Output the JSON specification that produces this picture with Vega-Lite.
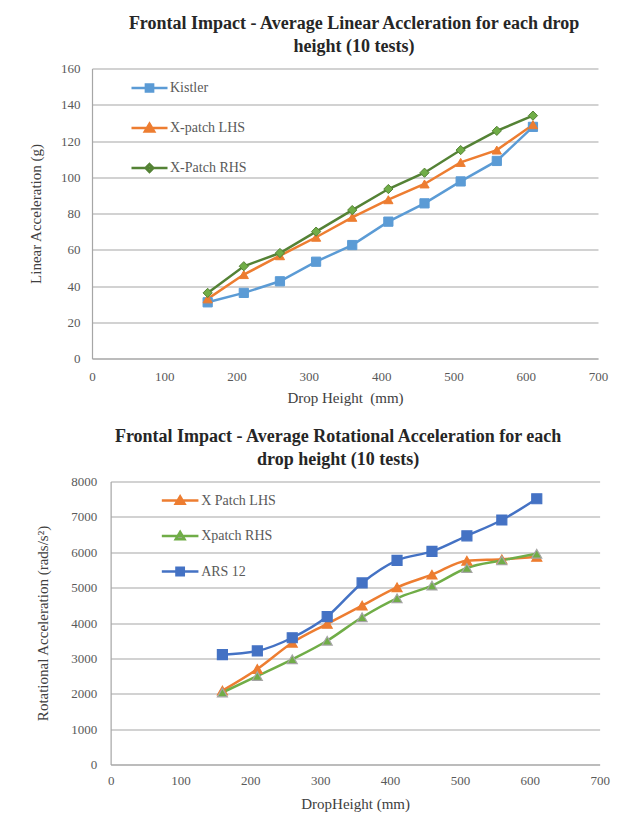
{
  "$schema": "https://vega.github.io/schema/vega-lite/v6.json",
  "background": "white",
  "padding": {"left": 28, "top": 14.5, "right": 0, "bottom": 2},
  "columns": 1,
  "center": true,
  "spacing": 22,
  "resolve": {"scale": {"color": "independent", "fill": "independent", "stroke": "independent", "shape": "independent", "x": "independent", "y": "independent"}},
  "config": {
    "font": "'Liberation Serif', 'Times New Roman', Times, 'DejaVu Serif', serif",
    "view": {"stroke": null},
    "axis": {
      "labelFont": "'Liberation Serif', 'Times New Roman', Times, 'DejaVu Serif', serif", "labelFontSize": 13, "labelColor": "#595959",
      "titleFont": "'Liberation Serif', 'Times New Roman', Times, 'DejaVu Serif', serif", "titleFontSize": 15, "titleFontWeight": "normal", "titleColor": "#404040",
      "ticks": false, "tickSize": 0, "domainColor": "#a6a6a6", "domainWidth": 1.2,
      "gridColor": "#a6a6a6", "gridWidth": 1.2, "labelFlush": false, "labelOverlap": false
    },
    "legend": {"labelFont": "'Liberation Serif', 'Times New Roman', Times, 'DejaVu Serif', serif", "labelFontSize": 14, "labelColor": "#595959"},
    "title": {"font": "'Liberation Serif', 'Times New Roman', Times, 'DejaVu Serif', serif", "fontSize": 18, "fontWeight": "bold", "color": "#262626", "lineHeight": 23}
  },
  "concat": [
    {
      "width": 506,
      "height": 290,
      "title": {"text": ["Frontal Impact - Average Linear Accleration for each drop", "height (10 tests)"], "anchor": "middle", "dx": 9, "offset": 6.5},
      "data": {"values": [
        {"h": 160, "v": 31.0, "series": "Kistler"},
        {"h": 210, "v": 36.2, "series": "Kistler"},
        {"h": 260, "v": 42.6, "series": "Kistler"},
        {"h": 310, "v": 53.4, "series": "Kistler"},
        {"h": 360, "v": 62.6, "series": "Kistler"},
        {"h": 410, "v": 75.5, "series": "Kistler"},
        {"h": 460, "v": 85.6, "series": "Kistler"},
        {"h": 510, "v": 97.7, "series": "Kistler"},
        {"h": 560, "v": 109.0, "series": "Kistler"},
        {"h": 610, "v": 127.8, "series": "Kistler"},
        {"h": 160, "v": 32.9, "series": "X-patch LHS"},
        {"h": 210, "v": 46.3, "series": "X-patch LHS"},
        {"h": 260, "v": 56.7, "series": "X-patch LHS"},
        {"h": 310, "v": 66.9, "series": "X-patch LHS"},
        {"h": 360, "v": 77.9, "series": "X-patch LHS"},
        {"h": 410, "v": 87.6, "series": "X-patch LHS"},
        {"h": 460, "v": 96.3, "series": "X-patch LHS"},
        {"h": 510, "v": 108.2, "series": "X-patch LHS"},
        {"h": 560, "v": 115.0, "series": "X-patch LHS"},
        {"h": 610, "v": 129.0, "series": "X-patch LHS"},
        {"h": 160, "v": 36.2, "series": "X-Patch RHS"},
        {"h": 210, "v": 50.9, "series": "X-Patch RHS"},
        {"h": 260, "v": 58.2, "series": "X-Patch RHS"},
        {"h": 310, "v": 70.0, "series": "X-Patch RHS"},
        {"h": 360, "v": 81.9, "series": "X-Patch RHS"},
        {"h": 410, "v": 93.5, "series": "X-Patch RHS"},
        {"h": 460, "v": 102.5, "series": "X-Patch RHS"},
        {"h": 510, "v": 115.0, "series": "X-Patch RHS"},
        {"h": 560, "v": 125.6, "series": "X-Patch RHS"},
        {"h": 610, "v": 134.0, "series": "X-Patch RHS"}
      ]},
      "encoding": {
        "x": {"field": "h", "type": "quantitative", "scale": {"domain": [0, 700], "nice": false},
          "axis": {"values": [0, 100, 200, 300, 400, 500, 600, 700], "format": "d", "title": "Drop Height\u00a0 (mm)", "grid": false, "labelPadding": 12, "titlePadding": 7}},
        "y": {"field": "v", "type": "quantitative", "scale": {"domain": [0, 160], "nice": false},
          "axis": {"values": [0, 20, 40, 60, 80, 100, 120, 140, 160], "format": "d", "title": "Linear Acceleration (g)", "labelPadding": 12, "titlePadding": 17}}
      },
      "layer": [
        {
          "mark": {"type": "line", "strokeWidth": 2.5},
          "encoding": {
            "color": {"field": "series", "type": "nominal",
              "scale": {"domain": ["Kistler", "X-patch LHS", "X-Patch RHS"], "range": ["#5B9BD5", "#ED7D31", "#548235"]}, "legend": null}
          }
        },
        {
          "mark": {"type": "point", "filled": true, "opacity": 1, "strokeWidth": 1, "size": 85},
          "encoding": {
            "y": {"field": "v", "type": "quantitative", "scale": {"domain": [0, 160], "nice": false}, "axis": null},
            "fill": {"field": "series", "type": "nominal",
              "scale": {"domain": ["Kistler", "X-patch LHS", "X-Patch RHS"], "range": ["#5B9BD5", "#ED7D31", "#70AD47"]}, "legend": null},
            "stroke": {"field": "series", "type": "nominal",
              "scale": {"domain": ["Kistler", "X-patch LHS", "X-Patch RHS"], "range": ["#5B9BD5", "#ED7D31", "#548235"]}, "legend": null},
            "shape": {"field": "series", "type": "nominal",
              "scale": {"domain": ["Kistler", "X-patch LHS", "X-Patch RHS"], "range": ["square", "triangle-up", "diamond"]}, "legend": null}
          }
        },
        {
          "mark": {"type": "point", "filled": true, "opacity": 0, "strokeWidth": 2.5},
          "encoding": {
            "y": {"field": "v", "type": "quantitative", "scale": {"domain": [0, 160], "nice": false},
              "axis": {"orient": "right", "values": [0, 160], "title": null, "grid": false, "domain": false, "labels": false, "ticks": true, "tickSize": 30, "tickOpacity": 0, "tickColor": "white"}},
            "fill": {"field": "series", "type": "nominal",
              "scale": {"domain": ["Kistler", "X-patch LHS", "X-Patch RHS"], "range": ["#5B9BD5", "#ED7D31", "#70AD47"]},
              "legend": {"orient": "none", "legendX": 38, "legendY": 0, "title": null, "symbolSize": 1296, "rowPadding": 11, "labelOffset": 1, "symbolOpacity": 1, "symbolStrokeWidth": 2.5}},
            "stroke": {"field": "series", "type": "nominal",
              "scale": {"domain": ["Kistler", "X-patch LHS", "X-Patch RHS"], "range": ["#5B9BD5", "#ED7D31", "#548235"]},
              "legend": {"orient": "none", "legendX": 38, "legendY": 0, "title": null, "symbolSize": 1296, "rowPadding": 11, "labelOffset": 1, "symbolOpacity": 1, "symbolStrokeWidth": 2.5}},
            "shape": {"field": "series", "type": "nominal",
              "scale": {"domain": ["Kistler", "X-patch LHS", "X-Patch RHS"], "range": ["M-1,0H1M-0.2,-0.2H0.2V0.2H-0.2Z", "M-1,0H1M0,-0.24L0.26,0.2H-0.26Z", "M-1,0H1M0,-0.22L0.22,0L0,0.22L-0.22,0Z"]},
              "legend": {"orient": "none", "legendX": 38, "legendY": 0, "title": null, "symbolSize": 1296, "rowPadding": 11, "labelOffset": 1, "symbolOpacity": 1, "symbolStrokeWidth": 2.5}}
          }
        }
      ],
      "resolve": {"scale": {"fill": "independent", "stroke": "independent", "shape": "independent"}, "axis": {"y": "independent"}}
    },
    {
      "width": 489,
      "height": 283,
      "title": {"text": ["Frontal Impact - Average Rotational Acceleration for each", "drop height (10 tests)"], "anchor": "middle", "dx": -17, "offset": 6.5},
      "data": {"values": [
        {"h": 160, "v": 2090, "series": "X Patch LHS"},
        {"h": 210, "v": 2700, "series": "X Patch LHS"},
        {"h": 260, "v": 3442, "series": "X Patch LHS"},
        {"h": 310, "v": 3977, "series": "X Patch LHS"},
        {"h": 360, "v": 4493, "series": "X Patch LHS"},
        {"h": 410, "v": 5008, "series": "X Patch LHS"},
        {"h": 460, "v": 5366, "series": "X Patch LHS"},
        {"h": 510, "v": 5760, "series": "X Patch LHS"},
        {"h": 560, "v": 5800, "series": "X Patch LHS"},
        {"h": 610, "v": 5870, "series": "X Patch LHS"},
        {"h": 160, "v": 2035, "series": "Xpatch RHS"},
        {"h": 210, "v": 2500, "series": "Xpatch RHS"},
        {"h": 260, "v": 2972, "series": "Xpatch RHS"},
        {"h": 310, "v": 3498, "series": "Xpatch RHS"},
        {"h": 360, "v": 4164, "series": "Xpatch RHS"},
        {"h": 410, "v": 4699, "series": "Xpatch RHS"},
        {"h": 460, "v": 5056, "series": "Xpatch RHS"},
        {"h": 510, "v": 5555, "series": "Xpatch RHS"},
        {"h": 560, "v": 5769, "series": "Xpatch RHS"},
        {"h": 610, "v": 5958, "series": "Xpatch RHS"},
        {"h": 160, "v": 3105, "series": "ARS 12"},
        {"h": 210, "v": 3210, "series": "ARS 12"},
        {"h": 260, "v": 3583, "series": "ARS 12"},
        {"h": 310, "v": 4183, "series": "ARS 12"},
        {"h": 360, "v": 5132, "series": "ARS 12"},
        {"h": 410, "v": 5769, "series": "ARS 12"},
        {"h": 460, "v": 6023, "series": "ARS 12"},
        {"h": 510, "v": 6465, "series": "ARS 12"},
        {"h": 560, "v": 6912, "series": "ARS 12"},
        {"h": 610, "v": 7512, "series": "ARS 12"}
      ]},
      "encoding": {
        "x": {"field": "h", "type": "quantitative", "scale": {"domain": [0, 700], "nice": false},
          "axis": {"values": [0, 100, 200, 300, 400, 500, 600, 700], "format": "d", "title": "DropHeight (mm)", "grid": false, "labelPadding": 10, "titlePadding": 9}},
        "y": {"field": "v", "type": "quantitative", "scale": {"domain": [0, 8000], "nice": false},
          "axis": {"values": [0, 1000, 2000, 3000, 4000, 5000, 6000, 7000, 8000], "format": "d", "title": "Rotational Acceleration (rads/s²)", "labelPadding": 14, "titlePadding": 20}}
      },
      "layer": [
        {
          "mark": {"type": "line", "strokeWidth": 2.5, "interpolate": "monotone"},
          "encoding": {
            "color": {"field": "series", "type": "nominal",
              "scale": {"domain": ["X Patch LHS", "Xpatch RHS", "ARS 12"], "range": ["#ED7D31", "#70AD47", "#4472C4"]}, "legend": null}
          }
        },
        {
          "mark": {"type": "point", "filled": true, "opacity": 1, "strokeWidth": 1.2, "size": 100},
          "encoding": {
            "fill": {"field": "series", "type": "nominal",
              "scale": {"domain": ["X Patch LHS", "Xpatch RHS", "ARS 12"], "range": ["#ED7D31", "#70AD47", "#4472C4"]}, "legend": null},
            "stroke": {"field": "series", "type": "nominal",
              "scale": {"domain": ["X Patch LHS", "Xpatch RHS", "ARS 12"], "range": ["#ED7D31", "#A5A5A5", "#4472C4"]}, "legend": null},
            "shape": {"field": "series", "type": "nominal",
              "scale": {"domain": ["X Patch LHS", "Xpatch RHS", "ARS 12"], "range": ["triangle-up", "triangle-up", "square"]}, "legend": null}
          }
        },
        {
          "mark": {"type": "point", "filled": true, "opacity": 0, "strokeWidth": 2.5},
          "encoding": {
            "fill": {"field": "series", "type": "nominal",
              "scale": {"domain": ["X Patch LHS", "Xpatch RHS", "ARS 12"], "range": ["#ED7D31", "#A5A5A5", "#4472C4"]},
              "legend": {"orient": "none", "legendX": 49.5, "legendY": -1, "title": null, "symbolSize": 1340, "rowPadding": 6.5, "labelOffset": 1, "symbolOpacity": 1, "symbolStrokeWidth": 2.5}},
            "stroke": {"field": "series", "type": "nominal",
              "scale": {"domain": ["X Patch LHS", "Xpatch RHS", "ARS 12"], "range": ["#ED7D31", "#70AD47", "#4472C4"]},
              "legend": {"orient": "none", "legendX": 49.5, "legendY": -1, "title": null, "symbolSize": 1340, "rowPadding": 6.5, "labelOffset": 1, "symbolOpacity": 1, "symbolStrokeWidth": 2.5}},
            "shape": {"field": "series", "type": "nominal",
              "scale": {"domain": ["X Patch LHS", "Xpatch RHS", "ARS 12"], "range": ["M-1,0H1M0,-0.22L0.24,0.18H-0.24Z", "M-1,0H1M0,-0.22L0.24,0.18H-0.24Z", "M-1,0H1M-0.2,-0.2H0.2V0.2H-0.2Z"]},
              "legend": {"orient": "none", "legendX": 49.5, "legendY": -1, "title": null, "symbolSize": 1340, "rowPadding": 6.5, "labelOffset": 1, "symbolOpacity": 1, "symbolStrokeWidth": 2.5}}
          }
        }
      ],
      "resolve": {"scale": {"fill": "independent", "stroke": "independent", "shape": "independent"}}
    }
  ]
}
